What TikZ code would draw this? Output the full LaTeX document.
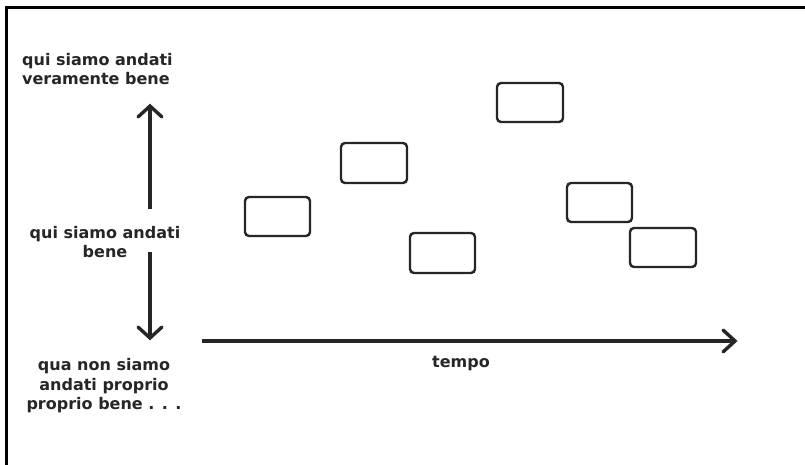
\documentclass[tikz,border=0pt]{standalone}
\usepackage{fontspec}
\setmainfont{DejaVu Sans}
\begin{document}
\begin{tikzpicture}[x=1pt,y=-1pt,
  bx/.style={draw=black!85,line width=2.4pt,rounded corners=4pt},
  lbl/.style={font=\fontsize{16}{19.5}\selectfont\bfseries,text=black!85,align=center,inner sep=0pt},
  axisline/.style={draw=black!85,line width=3.2pt},
  axistip/.style={draw=black!85,line width=3.4pt,line cap=round,line join=miter}]
\useasboundingbox (0,0) rectangle (805,465);
\fill[white] (0,0) rectangle (805,465);
\draw[line width=3pt] (6.5,465) -- (6.5,8) -- (805,8);
% labels
\node[lbl,align=left,anchor=north west] (top) at (22,53) {qui siamo andati\\veramente bene};
\node[lbl] (mid) at (105,242) {qui siamo andati\\bene};
\node[lbl] (bot) at (104,386) {qua non siamo\\andati proprio\\proprio bene . . .};
\node[lbl] (tempo) at (461,364) {tempo};
% axes
\coordinate (upS) at (150,209);
\coordinate (upT) at (150,106);
\coordinate (dnS) at (150,252);
\coordinate (dnT) at (150,338);
\coordinate (hS) at (202,341);
\coordinate (hT) at (735,341);
\draw[axisline] (upS) -- (upT);
\draw[axistip] ([shift={(-12,11)}]upT) -- (upT) -- ([shift={(12,11)}]upT);
\draw[axisline] (dnS) -- (dnT);
\draw[axistip] ([shift={(-12,-11)}]dnT) -- (dnT) -- ([shift={(12,-11)}]dnT);
\draw[axisline] (hS) -- (hT);
\draw[axistip] ([shift={(-12,-11)}]hT) -- (hT) -- ([shift={(-12,11)}]hT);
% boxes
\draw[bx] (245,197) rectangle (310,236) coordinate (b1);
\draw[bx] (341,143) rectangle (407,183) coordinate (b2);
\draw[bx] (410,233) rectangle (475,273) coordinate (b3);
\draw[bx] (497,83) rectangle (563,122) coordinate (b4);
\draw[bx] (567,183) rectangle (632,222) coordinate (b5);
\draw[bx] (630,228) rectangle (696,267) coordinate (b6);
\end{tikzpicture}
\end{document}
